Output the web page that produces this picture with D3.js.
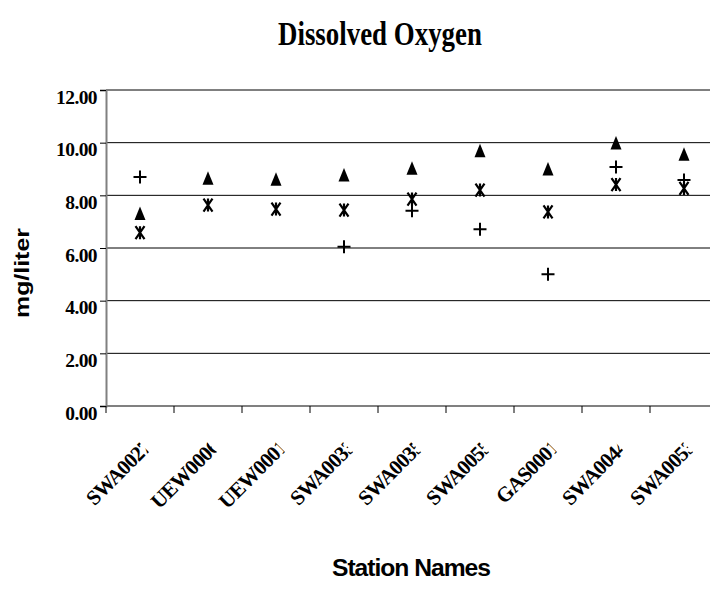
<!DOCTYPE html>
<html>
<head>
<meta charset="utf-8">
<script src="https://cdn.jsdelivr.net/npm/d3@7"></script>
<style>
  body { margin: 0; background: #fff; }
  svg { display: block; }
</style>
</head>
<body>
<script>
const stations = ['SWA0027', 'UEW0006', 'UEW0001', 'SWA0033', 'SWA0035', 'SWA0055', 'GAS0001', 'SWA0044', 'SWA0053']
const triangleVals = [7.31, 8.65, 8.61, 8.77, 9.03, 9.69, 9.00, 9.99, 9.56]
const starVals = [6.58, 7.63, 7.48, 7.44, 7.86, 8.20, 7.37, 8.41, 8.26]
const plusVals = [8.70, null, null, 6.05, 7.41, 6.71, 5.00, 9.08, 8.58]
const yTicks = [0, 2, 4, 6, 8, 10, 12]

const width = 710, height = 606
const margin = {top: 90, bottom: 200, left: 106, right: -8}
const serif = '"Liberation Serif", "Times New Roman", serif'
const sans = '"Liberation Sans", Arial, sans-serif'

const svg = d3.select('body').append('svg')
  .attr('width', width)
  .attr('height', height)

const x = d3.scaleBand()
  .domain(stations)
  .range([margin.left, width - margin.right])
  .padding(0)

const y = d3.scaleLinear()
  .domain([0, 12])
  .range([height - margin.bottom, margin.top])

// squeeze a text horizontally (in its own frame) so it is w px long
const squeeze = (sel, w) => {
  sel.each(function () {
    const len = this.getComputedTextLength()
    const t = d3.select(this)
    const pre = t.attr('data-pre') || ''
    t.attr('transform', `${pre} scale(${w / len},1)`)
  })
}

/* title */
svg.append('text')
  .attr('x', 0).attr('y', 0)
  .attr('data-pre', 'translate(278,45)')
  .style('font-family', serif)
  .style('font-weight', 'bold').style('font-size', '34px')
  .text('Dissolved Oxygen')
  .call(squeeze, 204)

/* gridlines */
svg.append('g').selectAll('line')
  .data(yTicks.filter(d => d > 0))
  .enter().append('line')
  .attr('x1', margin.left).attr('x2', width)
  .attr('y1', d => y(d)).attr('y2', d => y(d))
  .attr('stroke', '#000').attr('stroke-width', 1)

/* y axis */
const yaxis = d3.axisLeft(y).tickValues(yTicks).tickSize(6).tickFormat(d3.format('.2f'))
const gy = svg.append('g')
  .attr('transform', `translate(${margin.left},0)`)
  .call(yaxis)
gy.select('.domain').attr('stroke', '#808080').attr('stroke-width', 2)
gy.selectAll('.tick line').attr('stroke', '#000')
gy.selectAll('.tick text')
  .attr('x', -9).attr('dy', '13px')
  .attr('letter-spacing', '-0.6px')
  .style('font-family', serif)
  .style('font-weight', 'bold').style('font-size', '19.5px').attr('fill', '#000')

/* x axis */
const gx = svg.append('g')
  .attr('transform', `translate(0,${y(0)})`)
gx.append('line')
  .attr('x1', margin.left).attr('x2', width)
  .attr('stroke', '#808080').attr('stroke-width', 2)
gx.selectAll('.xt')
  .data(stations)
  .enter().append('line')
  .attr('class', 'xt')
  .attr('x1', d => x(d)).attr('x2', d => x(d))
  .attr('y1', 0).attr('y2', 7)
  .attr('stroke', '#000')

/* x labels, rotated and clipped */
svg.append('defs').append('clipPath').attr('id', 'lblclip')
  .append('rect').attr('x', -300).attr('y', -40).attr('width', 300).attr('height', 60)

svg.append('g').selectAll('g')
  .data(stations)
  .enter().append('g')
  .attr('transform', d => `translate(${x(d) + x.bandwidth() / 2 + 9},452) rotate(-45)`)
  .append('text')
  .attr('x', 5)
  .attr('text-anchor', 'end')
  .attr('letter-spacing', '-0.8px')
  .attr('clip-path', 'url(#lblclip)')
  .style('font-family', serif)
  .style('font-weight', 'bold').style('font-size', '21px')
  .text(d => d)

/* axis titles */
svg.append('text')
  .attr('x', 0).attr('y', 0)
  .attr('data-pre', 'translate(29,318) rotate(-90)')
  .style('font-family', sans)
  .style('font-weight', 'bold').style('font-size', '21px')
  .text('mg/liter')
  .call(squeeze, 90)

svg.append('text')
  .attr('x', 0).attr('y', 0)
  .attr('data-pre', 'translate(332,576)')
  .style('font-family', sans)
  .style('font-weight', 'bold').style('font-size', '24px')
  .attr('letter-spacing', '-1px')
  .text('Station Names')
  .call(squeeze, 158)

/* markers */
const cx = i => x(stations[i]) + x.bandwidth() / 2
const triPath = 'M0,-7L5.5,6.5L-5.5,6.5Z'
const starPath = 'M-4.5,-6.5L4.5,6.5M4.5,-6.5L-4.5,6.5M0,-6.5L0,6.5'
const plusPath = 'M-6.5,0L6.5,0M0,-6.5L0,6.5'

svg.append('g').selectAll('path')
  .data(triangleVals)
  .enter().append('path')
  .attr('d', triPath)
  .attr('transform', (d, i) => `translate(${cx(i)},${y(d)})`)
  .attr('fill', '#000')

svg.append('g').selectAll('path')
  .data(starVals)
  .enter().append('path')
  .attr('d', starPath)
  .attr('transform', (d, i) => `translate(${cx(i)},${y(d)})`)
  .attr('fill', 'none').attr('stroke', '#000').attr('stroke-width', 2.2)

svg.append('g').selectAll('path')
  .data(plusVals.map((v, i) => ({v, i})).filter(d => d.v !== null))
  .enter().append('path')
  .attr('d', plusPath)
  .attr('transform', d => `translate(${cx(d.i)},${y(d.v)})`)
  .attr('fill', 'none').attr('stroke', '#000').attr('stroke-width', 2)
</script>
</body>
</html>
